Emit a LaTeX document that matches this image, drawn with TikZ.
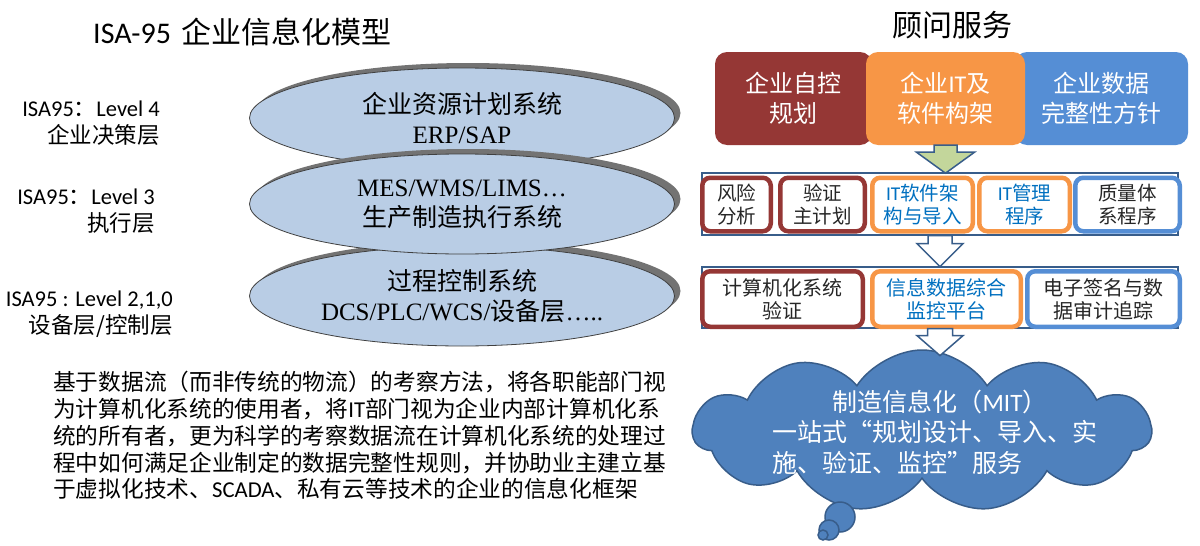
\documentclass[tikz,border=0pt]{standalone}
\usepackage{fontspec}
\setmainfont{Noto Sans CJK SC}
\newfontfamily\latf{Carlito}
\newfontfamily\romf{Liberation Serif}
\usetikzlibrary{shapes.geometric,shapes.symbols,shadows,positioning,calc}

\definecolor{planred}{HTML}{953735}
\definecolor{softorange}{HTML}{F79646}
\definecolor{datablue}{HTML}{558ED5}
\definecolor{layerblue}{HTML}{B9CDE5}
\definecolor{linkblue}{HTML}{385D8A}
\definecolor{arrowgreen}{HTML}{C3D69B}
\definecolor{cloudblue}{HTML}{4F81BD}
\definecolor{itblue}{HTML}{0070C0}
\colorlet{celltext}{black!85}

% block arrow pointing down: top point, length, shaft half width, head half width, head length, style
\newcommand\blockdown[6]{%
  \draw[#6] #1 ++(-#3,0) -- ++(2*#3,0) -- ++(0,#2-#5) -- ++(#4-#3,0) -- ++(-#4,#5)
    -- ++(-#4,-#5) -- ++(#4-#3,0) -- cycle;}

\begin{document}
\begin{tikzpicture}[x=1pt,y=-1pt,
  layer/.style={ellipse, draw=black!75, line width=0.8, fill=layerblue, minimum width=425,
    minimum height=100, inner sep=0, align=center, font=\fontsize{25}{30}\selectfont,
    drop shadow={shadow xshift=6pt, shadow yshift=5pt, opacity=1, fill=black!55}},
  levellabel/.style={anchor=east, align=right, inner sep=0, font=\fontsize{22.5}{27}\selectfont},
  topbox/.style={rounded corners=12, fill=#1, minimum height=93, inner sep=0, text=white,
    align=center, font=\fontsize{24}{30}\selectfont},
  band/.style={draw=linkblue, line width=1.2, fill=white, minimum width=476, inner sep=0},
  cell/.style={draw=#1, line width=4.5, fill=white, rounded corners=8, inner sep=0, align=center},
  blockline/.style={draw=linkblue, line width=1.5, line join=miter}]
\useasboundingbox[fill=white] (0,0) rectangle (1200,546);

%% left: ISA-95 model
\node[anchor=west, inner sep=0, font=\fontsize{30}{34}\selectfont] (isatitle) at (93,32)
  {{\latf ISA-95}\hspace{4pt} 企业信息化模型};

\node[layer] (erp) at (462,118) {企业资源计划系统\\{\romf ERP/SAP}};
\node[layer] (dcs) at (462,296) {过程控制系统\\{\romf DCS/PLC/WCS/}设备层{\romf …..}};
\node[layer] (mes) at (462,204) {{\romf MES/WMS/LIMS…}\\生产制造执行系统};

\node[levellabel] (lv4) at (160,123.5) {{\latf ISA95}：{\latf Level 4}\\企业决策层};
\node[levellabel] (lv3) at (155,211.5) {{\latf ISA95}：{\latf Level 3}\\执行层};
\node[levellabel] (lv2) at (173,314) {{\latf ISA95 : Level 2,1,0}\\设备层/控制层};

\node[anchor=north west, inner sep=0, align=left, font=\fontsize{22.7}{26.8}\selectfont] (note) at (53,371)
  {基于数据流（而非传统的物流）的考察方法，将各职能部门视\\
   为计算机化系统的使用者，将{\latf IT}部门视为企业内部计算机化系\\
   统的所有者，更为科学的考察数据流在计算机化系统的处理过\\
   程中如何满足企业制定的数据完整性规则，并协助业主建立基\\
   于虚拟化技术、{\latf SCADA}、私有云等技术的企业的信息化框架};

%% right: consulting services
\node[font=\fontsize{30}{34}\selectfont, inner sep=0] (svctitle) at (952,25) {顾问服务};

\node[topbox=planred, minimum width=157] (plan) at (793.5,98.5) {企业自控\\规划};
\node[topbox=datablue, minimum width=173] (integ) at (1101.5,98.5) {企业数据\\完整性方针};
\node[topbox=softorange, minimum width=159] (itsoft) at (945.5,98.5) {企业{\latf IT}及\\软件构架};

\node[band, minimum height=62] (band1) at (940,204) {};
\foreach \n/\x/\w/\c/\f/\t in {
  risk/736.5/68.5/planred/celltext/{风险\\分析},
  vmp/822.5/84.5/planred/celltext/{验证\\主计划},
  itimp/922.5/100.5/softorange/itblue/{{\latf IT}软件架\\构与导入},
  itproc/1024.5/90.5/softorange/itblue/{{\latf IT}管理\\程序},
  qms/1127.5/104.5/datablue/celltext/{质量体\\系程序}}
  \node[cell=\c, text=\f, minimum width=\w, minimum height=53.5,
    font=\fontsize{19.5}{23}\selectfont] (\n) at (\x,204.5) {\t};

\node[band, minimum height=61] (band2) at (940,297.5) {};
\foreach \n/\x/\w/\c/\f/\t in {
  csv/782.5/160.5/planred/celltext/{计算机化系统\\验证},
  monitor/946.5/148.5/softorange/itblue/{信息数据综合\\监控平台},
  esig/1103.5/152.5/datablue/celltext/{电子签名与数\\据审计追踪}}
  \node[cell=\c, text=\f, minimum width=\w, minimum height=55.5,
    font=\fontsize{20}{23}\selectfont] (\n) at (\x,299) {\t};

\blockdown{(itsoft.south)}{28}{11.5}{29}{21}{blockline, fill=arrowgreen}
\blockdown{(band1.south)}{31}{12}{23}{23}{blockline, fill=white}

\node[cloud, cloud puffs=11, cloud puff arc=115, aspect=2.8, minimum width=458, minimum height=162,
  fill=cloudblue, draw=linkblue, line width=1.5] (mit) at (922,431) {};
\blockdown{(band2.south)}{27}{12.5}{23}{20}{blockline, fill=white}
\foreach \n/\x/\y/\r in {bub1/840/517/15, bub2/829/530/10, bub3/823/535/5}
  \node[circle, minimum size=2*\r, inner sep=0, fill=cloudblue, draw=linkblue, line width=1.5]
    (\n) at (\x,\y) {};

\node[text=white, text width=336, align=left, inner sep=0, font=\fontsize{25}{30.5}\selectfont]
  (mittext) at (940,432)
  {\makebox[\hsize]{制造信息化（{\latf MIT}）}\\一站式“规划设计、导入、实\\施、验证、监控”服务};
\end{tikzpicture}
\end{document}
